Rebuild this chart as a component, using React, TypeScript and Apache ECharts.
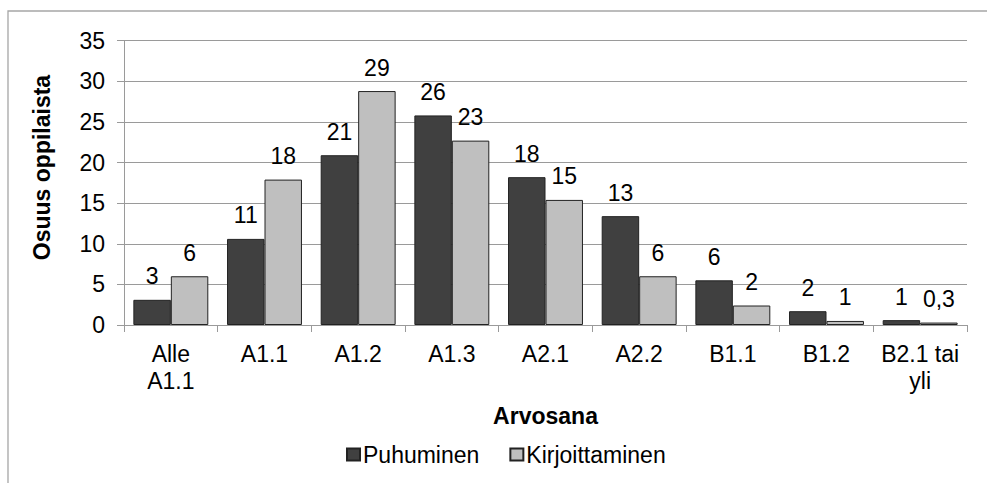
import React, { useEffect, useRef } from "react";
import * as echarts from "echarts";

const categories = ["Alle\nA1.1", "A1.1", "A1.2", "A1.3", "A2.1", "A2.2", "B1.1", "B1.2", "B2.1 tai\nyli"];
const puhuminen = [3.1, 10.6, 20.9, 25.8, 18.2, 13.4, 5.5, 1.7, 0.6];
const kirjoittaminen = [6.0, 17.9, 28.8, 22.7, 15.4, 6.0, 2.4, 0.5, 0.3];
const puhuminenLabels = ["3", "11", "21", "26", "18", "13", "6", "2", "1"];
const kirjoittaminenLabels = ["6", "18", "29", "23", "15", "6", "2", "1", "0,3"];
const yTicks = { min: 0, max: 35, interval: 5 };

const FONT = "'Liberation Sans', Arial, sans-serif";
const FS = 23;

export default function App() {
  const ref = useRef<HTMLDivElement>(null);
  useEffect(() => {
    if (!ref.current) return;
    const chart = echarts.init(ref.current, undefined, { renderer: "svg" });
    const labelCfg = (labels: string[]) => ({
      show: true,
      position: "top",
      distance: 12,
      color: "#000",
      fontSize: FS,
      fontFamily: FONT,
      formatter: (p: any) => labels[p.dataIndex],
    });
    chart.setOption({
      animation: false,
      backgroundColor: "#fff",
      textStyle: { fontFamily: FONT },
      grid: { left: 124, right: 20, top: 40.7, bottom: 158, containLabel: false },
      graphic: [
        {
          type: "rect",
          shape: { x: 8, y: 11, width: 1000, height: 500 },
          style: { fill: "none", stroke: "#A6A6A6", lineWidth: 1.3 },
          silent: true,
        },
        {
          type: "text",
          x: 42,
          y: 167.5,
          rotation: Math.PI / 2,
          style: {
            text: "Osuus oppilaista",
            fontSize: FS,
            fontWeight: "bold",
            fontFamily: FONT,
            fill: "#000",
            align: "center",
            verticalAlign: "middle",
          },
        },
      ],
      legend: {
        left: 341,
        top: 438,
        itemWidth: 13,
        itemHeight: 12,
        itemGap: 30,
        icon: "rect",
        textStyle: { fontSize: FS, fontFamily: FONT, color: "#000", padding: [0, 0, 0, -2] },
        data: ["Puhuminen", "Kirjoittaminen"],
      },
      xAxis: {
        type: "category",
        data: categories,
        name: "Arvosana",
        nameLocation: "middle",
        nameGap: 79,
        nameTextStyle: { fontSize: FS, fontWeight: "bold", color: "#000", fontFamily: FONT },
        axisLine: { lineStyle: { color: "#9A9A9A", width: 1 } },
        axisTick: { show: true, length: 7, lineStyle: { color: "#9A9A9A" } },
        axisLabel: {
          fontSize: FS,
          color: "#000",
          lineHeight: 27,
          margin: 15,
          interval: 0,
          fontFamily: FONT,
        },
      },
      yAxis: {
        type: "value",
        min: yTicks.min,
        max: yTicks.max,
        interval: yTicks.interval,
        axisLine: { show: true, lineStyle: { color: "#9A9A9A", width: 1 } },
        axisTick: { show: true, length: 7, lineStyle: { color: "#9A9A9A" } },
        splitLine: { lineStyle: { color: "#9A9A9A", width: 1 } },
        axisLabel: { fontSize: FS, color: "#000", margin: 19, fontFamily: FONT },
      },
      series: [
        {
          name: "Puhuminen",
          type: "bar",
          data: puhuminen,
          barGap: "0%",
          barCategoryGap: "20%",
          itemStyle: { color: "#404040", borderColor: "#222", borderWidth: 1 },
          label: labelCfg(puhuminenLabels),
        },
        {
          name: "Kirjoittaminen",
          type: "bar",
          data: kirjoittaminen,
          barGap: "0%",
          barCategoryGap: "20%",
          itemStyle: { color: "#BFBFBF", borderColor: "#222", borderWidth: 1 },
          label: labelCfg(kirjoittaminenLabels),
        },
      ],
    });
    return () => chart.dispose();
  }, []);
  return (
    <div
      ref={ref}
      style={{ position: "absolute", left: 0, top: 0, width: 987, height: 483 }}
    />
  );
}
